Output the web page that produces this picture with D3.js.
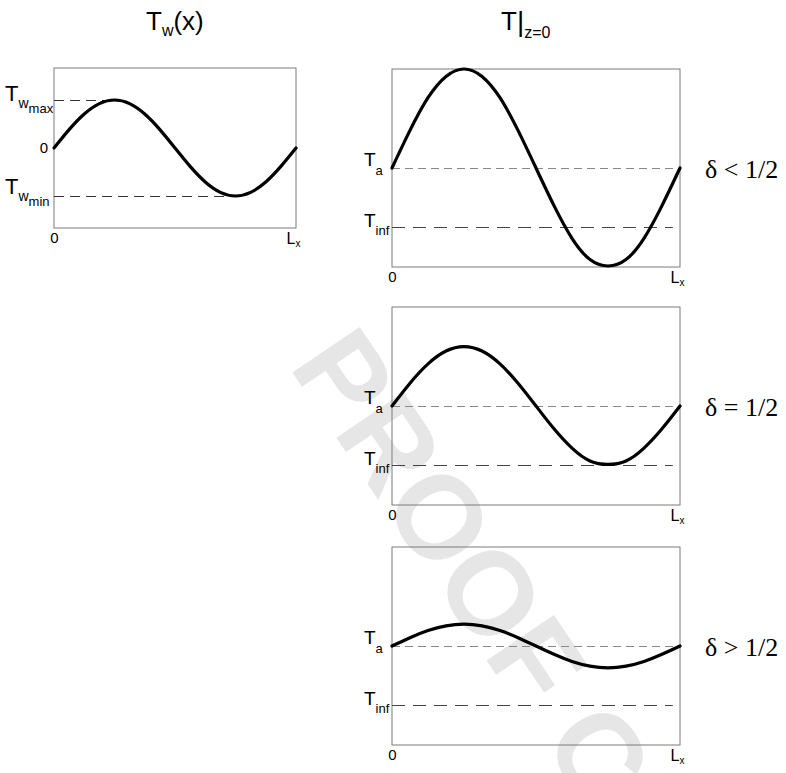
<!DOCTYPE html>
<html>
<head>
<meta charset="utf-8">
<script src="https://cdn.jsdelivr.net/npm/d3@7"></script>
<style>
  body { margin: 0; background: #fff; }
  text { font-family: "Liberation Sans", Arial, sans-serif; fill: #000; }
  .delta { font-family: "Liberation Serif", "Times New Roman", serif; }
</style>
</head>
<body>
<div id="chart"></div>
<script>

// x positions along the period, as fraction of Lx
const xFrac = [0, 0.0625, 0.125, 0.1875, 0.25, 0.3125, 0.375, 0.4375, 0.5,
               0.5625, 0.625, 0.6875, 0.75, 0.8125, 0.875, 0.9375, 1];

// wall temperature Tw(x) (box half height = 1)
const wallTemp = [0, 0.23, 0.425, 0.555, 0.6, 0.555, 0.425, 0.23, 0,
                  -0.23, -0.425, -0.555, -0.6, -0.555, -0.425, -0.23, 0];

// T at z=0 for the three cases (relative to Ta, box half height = 1)
const surfLow  = [0, 0.38, 0.71, 0.925, 1.0, 0.925, 0.71, 0.38, 0,
                  -0.38, -0.71, -0.925, -0.99, -0.925, -0.71, -0.38, 0];
const surfHalf = [0, 0.23, 0.425, 0.555, 0.6, 0.555, 0.425, 0.23, 0,
                  -0.23, -0.425, -0.555, -0.59, -0.555, -0.425, -0.23, 0];
const surfHigh = [0, 0.084, 0.156, 0.203, 0.22, 0.203, 0.156, 0.084, 0,
                  -0.084, -0.156, -0.203, -0.22, -0.203, -0.156, -0.084, 0];

const surfSeries = [surfLow, surfHalf, surfHigh];
const deltaLabels = ["\u03b4 < 1/2", "\u03b4 = 1/2", "\u03b4 > 1/2"];

// reference levels
const wallRefs = [0.6, -0.6];       // Tw max, Tw min
const wallRefEnds = [0.25, 0.75];   // where the dashed lines stop (x / Lx)
const tA = 0;
const tInf = -0.6;

const xTickVals = [0, 1];
const xTickLabels = ["0", "L"];

const width = 786, height = 773;

const svg = d3.select("#chart").append("svg")
    .attr("width", width)
    .attr("height", height);

// faint watermark
svg.append("text")
    .attr("transform", "translate(288,366) rotate(56)")
    .attr("font-size", 118)
    .attr("font-weight", "bold")
    .style("fill", "#e6e6e6")
    .text("PROOF C");

// helper: label made of pieces with sub/sub-sub scripts
function subText(g, x, y, parts, anchor) {
    let t = g.append("text")
        .attr("x", x)
        .attr("y", y)
        .attr("text-anchor", anchor || "start");
    parts.forEach(p => {
        t.append("tspan")
            .attr("font-size", p.size)
            .attr("dy", p.dy || 0)
            .text(p.t);
    });
    return t;
}

function drawPanel(box, domainY, series, refs) {
    let g = svg.append("g");

    let x = d3.scaleLinear().domain([0, 1]).range([box.x, box.x + box.w]);
    let y = d3.scaleLinear().domain(domainY).range([box.y + box.h, box.y]);

    g.append("rect")
        .attr("x", box.x)
        .attr("y", box.y)
        .attr("width", box.w)
        .attr("height", box.h)
        .attr("fill", "none")
        .attr("stroke", "#7a7a7a")
        .attr("stroke-width", 1);

    refs.forEach(r => {
        g.append("line")
            .attr("x1", x(0))
            .attr("x2", x(r.end))
            .attr("y1", Math.round(y(r.v)) + 0.5)
            .attr("y2", Math.round(y(r.v)) + 0.5)
            .attr("stroke", r.color)
            .attr("stroke-width", 1)
            .attr("stroke-dasharray", r.dash);
    });

    let line = d3.line()
        .x((d, i) => x(xFrac[i]))
        .y(d => y(d))
        .curve(d3.curveNatural);

    g.append("path")
        .datum(series)
        .attr("d", line)
        .attr("fill", "none")
        .attr("stroke", "#000")
        .attr("stroke-width", 3.2)
        .attr("stroke-linecap", "round");

    // x axis: just the 0 and Lx labels
    let xAxis = d3.axisBottom(x)
        .tickValues(xTickVals)
        .tickSize(0)
        .tickPadding(0)
        .tickFormat((d, i) => xTickLabels[i]);

    let ax = g.append("g")
        .attr("transform", "translate(0," + (box.y + box.h + 1) + ")")
        .call(xAxis);
    ax.select(".domain").remove();
    ax.selectAll("text")
        .attr("font-size", 15)
        .attr("font-family", "Liberation Sans, Arial, sans-serif")
        .attr("dy", "0.95em");
    ax.selectAll(".tick").filter(d => d === 1).select("text")
        .attr("text-anchor", "end")
        .attr("font-size", 16)
        .attr("dx", 4)
        .append("tspan")
        .attr("font-size", 10)
        .attr("dy", 3)
        .text("x");

    return {g: g, x: x, y: y};
}

// ---- left panel: Tw(x)
subText(svg, 146, 30, [
    {t: "T", size: 26},
    {t: "w", size: 16, dy: 6},
    {t: "(x)", size: 26, dy: -6}
]);

let left = drawPanel({x: 54, y: 68, w: 242, h: 160}, [-1, 1], wallTemp, [
    {v: wallRefs[0], end: wallRefEnds[0], color: "#333", dash: "10,6"},
    {v: wallRefs[1], end: wallRefEnds[1], color: "#333", dash: "10,6"}
]);

subText(svg, 5, left.y(wallRefs[0]) + 1, [
    {t: "T", size: 22},
    {t: "w", size: 14, dy: 7},
    {t: "max", size: 13, dy: 5}
]);
subText(svg, 5, left.y(wallRefs[1]) - 2, [
    {t: "T", size: 22},
    {t: "w", size: 14, dy: 7},
    {t: "min", size: 13, dy: 5}
]);
svg.append("text")
    .attr("x", 48)
    .attr("y", left.y(0) + 5)
    .attr("text-anchor", "end")
    .attr("font-size", 15)
    .text("0");

// ---- right panels: T at z=0
subText(svg, 501, 30, [
    {t: "T", size: 26},
    {t: "|", size: 28, dy: 1},
    {t: "z=0", size: 16, dy: 7}
]);

const rightTops = [69, 307, 547];

surfSeries.forEach((s, k) => {
    let p = drawPanel({x: 392, y: rightTops[k], w: 288, h: 198}, [-1, 1], s, [
        {v: tA, end: 0.985, color: "#888", dash: "8,5"},
        {v: tInf, end: 0.975, color: "#444", dash: "13,8"}
    ]);

    subText(svg, 364, p.y(tA) - 2, [
        {t: "T", size: 19},
        {t: "a", size: 13, dy: 9}
    ]);
    subText(svg, 364, p.y(tInf), [
        {t: "T", size: 19},
        {t: "inf", size: 13, dy: 8}
    ]);

    svg.append("text")
        .attr("class", "delta")
        .attr("x", 705)
        .attr("y", p.y(tA) + 10)
        .attr("font-size", 26)
        .text(deltaLabels[k]);
});

</script>
</body>
</html>
